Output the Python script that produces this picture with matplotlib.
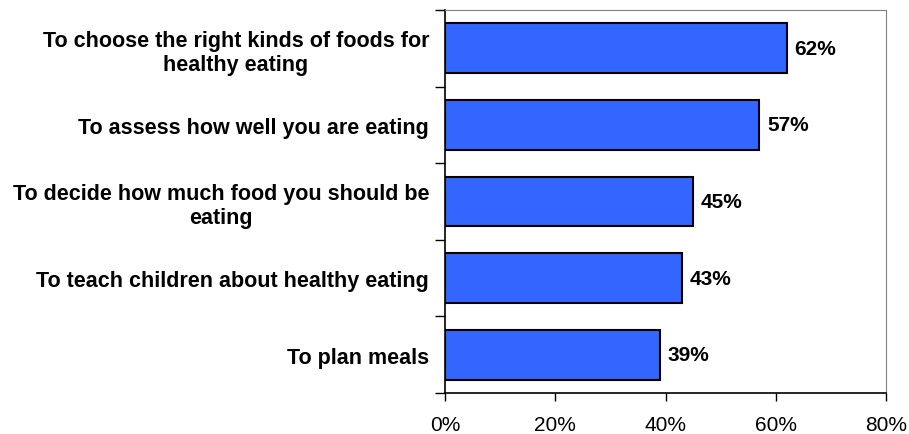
import matplotlib.pyplot as plt
import matplotlib as mpl
import numpy as np

mpl.rcParams['font.family'] = ['Liberation Sans', 'DejaVu Sans']

# survey answers, bottom to top as drawn
labels = ["To plan meals",
          "To teach children about healthy eating",
          "To decide how much food you should be\neating",
          "To assess how well you are eating",
          "To choose the right kinds of foods for\nhealthy eating"]
values = [39, 43, 45, 57, 62]
xticks = [0, 20, 40, 60, 80]

fig = plt.figure(figsize=(9.09, 4.35), dpi=100)
ax = fig.add_axes([445/909, 41/435, 441/909, 383/435])

y = np.arange(len(values))
ax.barh(y, values, height=0.65, color='#3366FF', edgecolor='black', linewidth=1.5)

for yi, v in zip(y, values):
    ax.text(v + 1.4, yi, f"{v}%", va='center', ha='left',
            fontsize=15, fontweight='bold')

ax.set_xlim(0, 80)
ax.set_ylim(-0.5, len(values) - 0.5)
ax.set_xticks(xticks)
ax.set_xticklabels([f"{t}%" for t in xticks], fontsize=15)

# category labels sit between boundary ticks
ax.set_yticks(np.arange(-0.5, len(values), 1.0))
ax.set_yticklabels([])
ax.set_yticks(y, minor=True)
ax.set_yticklabels(labels, minor=True, fontsize=15.5, fontweight='bold',
                   multialignment='center', linespacing=1.2)
ax.tick_params(axis='y', which='minor', length=0, pad=11.5)
ax.tick_params(axis='y', which='major', length=7, width=1)
ax.tick_params(axis='x', length=6, width=1, pad=10)

for s in ['top', 'right']:
    ax.spines[s].set_color('#808080')
for s in ['left', 'bottom']:
    ax.spines[s].set_color('black')
    ax.spines[s].set_linewidth(1.2)

plt.savefig('out.png', dpi=100)
